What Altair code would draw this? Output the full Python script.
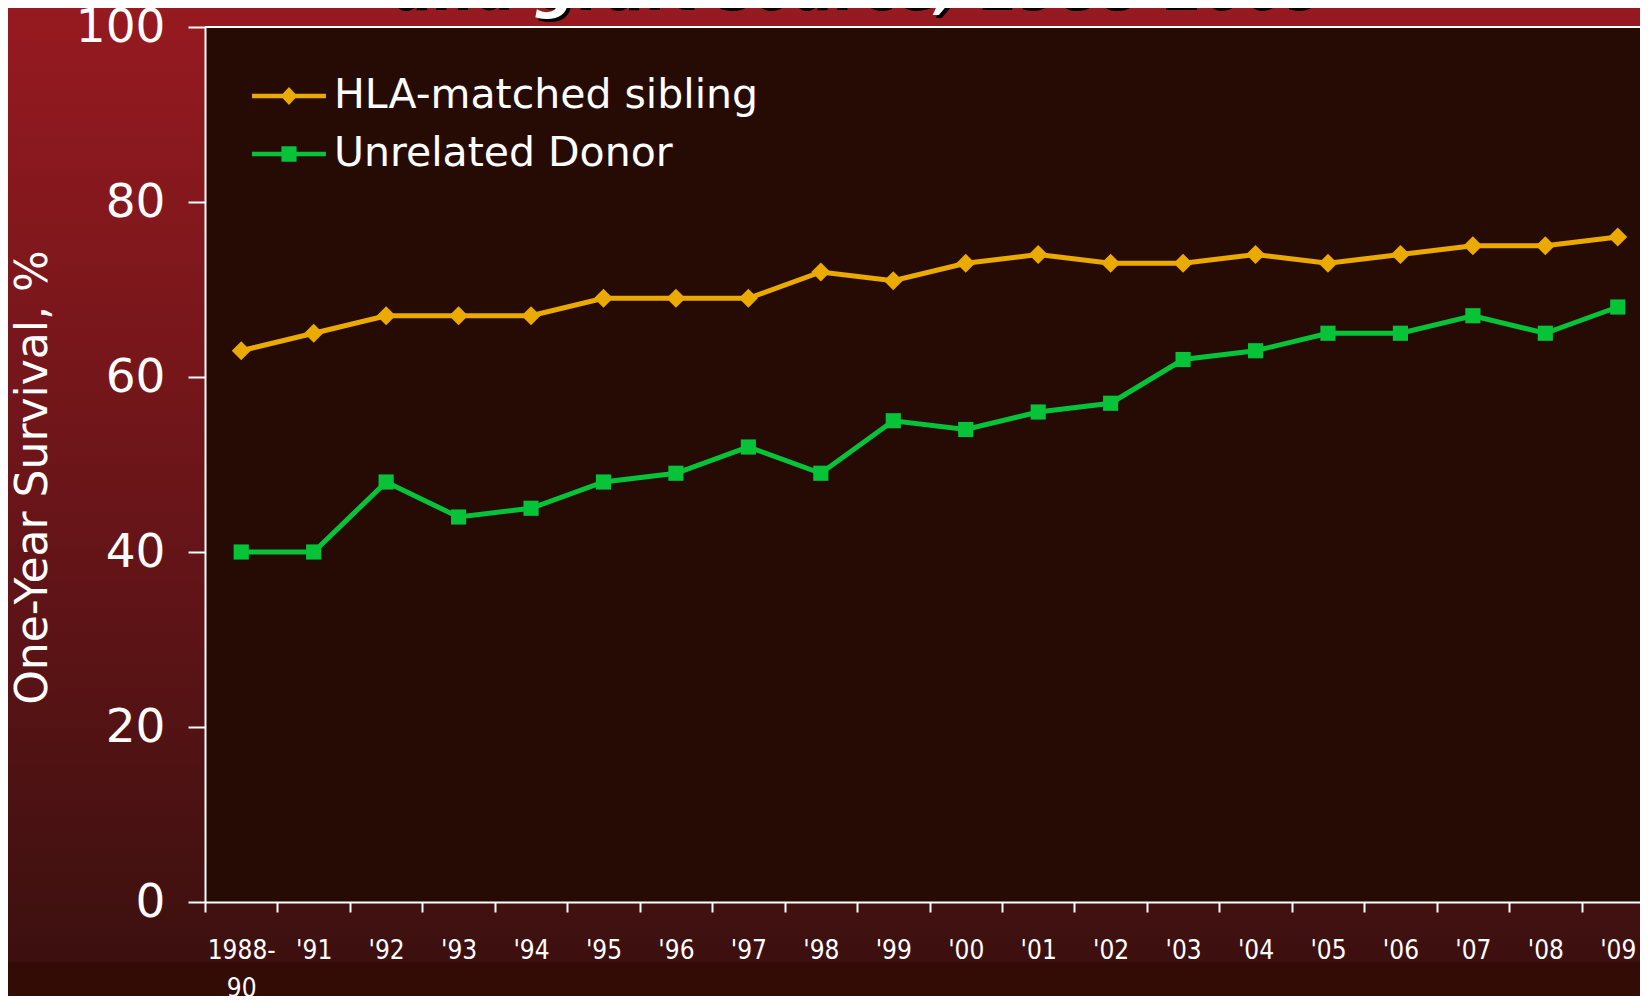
import altair as alt
import pandas as pd

# ---------------- data ----------------
years = ["1988-90", "'91", "'92", "'93", "'94", "'95", "'96", "'97", "'98", "'99",
         "'00", "'01", "'02", "'03", "'04", "'05", "'06", "'07", "'08", "'09"]
hla_sibling = [63, 65, 67, 67, 67, 69, 69, 69, 72, 71, 73, 74, 73, 73, 74, 73, 74, 75, 75, 76]
unrelated_donor = [40, 40, 48, 44, 45, 48, 49, 52, 49, 55, 54, 56, 57, 62, 63, 65, 65, 67, 65, 68]
series_names = ["HLA-matched sibling", "Unrelated Donor"]
series_colors = ["#EAAA00", "#06C337"]
y_ticks = [0, 20, 40, 60, 80, 100]
y_title = "One-Year Survival, %"
slide_title = "and graft source, 1988-2009"

# legend symbols: a line with the marker in the middle (SVG paths, 1 unit = 21 px)
legend_paths = [
    "M-1.76,-0.11H1.76V0.11H-1.76Z M0,-0.43L0.4,0L0,0.43L-0.4,0Z",
    "M-1.76,-0.11H1.76V0.11H-1.76Z M-0.36,-0.37H0.36V0.37H-0.36Z",
]

hla_df = pd.DataFrame({"year": years, "value": hla_sibling, "series": series_names[0]})
unr_df = pd.DataFrame({"year": years, "value": unrelated_donor, "series": series_names[1]})
long_df = pd.concat([hla_df, unr_df], ignore_index=True)

# ---------------- layout ----------------
W, H = 1435, 875
PAD_L, PAD_T, PAD_B = 197, 19, 94
X_RANGE = 1449

x_enc = alt.X(
    "year:N",
    sort=years,
    scale=alt.Scale(domain=years, range=[0, X_RANGE], paddingInner=0, paddingOuter=0),
    axis=alt.Axis(
        title=None, labelAngle=0, tickBand="extent", tickSize=10, tickWidth=2,
        tickColor="white", domainColor="white", domainWidth=2, grid=False, zindex=2,
        labelColor="white", labelFont="DejaVu Sans Condensed, Liberation Sans Narrow, sans-serif",
        labelFontSize=26, labelPadding=25, labelLineHeight=38, labelOverlap=False,
        labelBaseline="top",
        labelExpr="datum.value == '1988-90' ? ['1988-', '90'] : datum.label",
    ),
)
y_enc = alt.Y(
    "value:Q",
    scale=alt.Scale(domain=[0, 100], nice=False, zero=True),
    axis=alt.Axis(
        values=y_ticks, title=y_title, grid=False, zindex=2,
        titleFont="DejaVu Sans", titleFontSize=44, titleFontWeight="normal", titleColor="white",
        titleX=-172, titleY=450, titleBaseline="middle", titleAngle=270,
        labelFont="DejaVu Sans", labelFontSize=47, labelColor="white", labelPadding=23,
        tickSize=17, tickWidth=2, tickColor="white", domainColor="white", domainWidth=2,
    ),
)

bg_data = alt.Data(values=[{"k": 1}])

gradient = alt.Chart(bg_data).mark_rect(
    color=alt.LinearGradient(
        gradient="linear",
        stops=[
            alt.GradientStop(color="#961a20", offset=0),
            alt.GradientStop(color="#6b1519", offset=0.5),
            alt.GradientStop(color="#3c100f", offset=1),
        ],
        x1=0, x2=0, y1=0, y2=1,
    )
).encode(x=alt.value(-PAD_L), x2=alt.value(X_RANGE + 20), y=alt.value(-PAD_T), y2=alt.value(935))

bottom_strip = alt.Chart(bg_data).mark_rect(color="#320c05").encode(
    x=alt.value(-PAD_L), x2=alt.value(X_RANGE + 20), y=alt.value(935), y2=alt.value(H + PAD_B + 10)
)

plot_bg = alt.Chart(bg_data).mark_rect(color="#250b03").encode(
    x=alt.value(0), x2=alt.value(X_RANGE + 20), y=alt.value(0), y2=alt.value(H)
)

top_border = alt.Chart(bg_data).mark_rule(color="white", strokeWidth=2).encode(
    x=alt.value(0), x2=alt.value(X_RANGE + 20), y=alt.value(0)
)

title_shadow = alt.Chart(bg_data).mark_text(
    text=slide_title, font="DejaVu Sans", fontSize=58, fontWeight="bold", fontStyle="italic",
    color="black", align="center", baseline="alphabetic"
).encode(x=alt.value(656), y=alt.value(-17))

title_text = alt.Chart(bg_data).mark_text(
    text=slide_title, font="DejaVu Sans", fontSize=58, fontWeight="bold", fontStyle="italic",
    color="white", align="center", baseline="alphabetic"
).encode(x=alt.value(653), y=alt.value(-20))

line_hla = alt.Chart(hla_df).mark_line(strokeWidth=5, color=series_colors[0]).encode(x=x_enc, y=y_enc)
line_unr = alt.Chart(unr_df).mark_line(strokeWidth=5, color=series_colors[1]).encode(x=x_enc, y=y_enc)

diamonds = alt.Chart(hla_df).mark_point(
    shape="diamond", filled=True, size=360, color=series_colors[0], opacity=1
).encode(x=x_enc, y=y_enc)

squares = alt.Chart(unr_df).mark_point(
    shape="square", filled=True, size=230, color=series_colors[1], opacity=1
).encode(x=x_enc, y=y_enc)

legend_def = alt.Legend(
    title=None, orient="none", legendX=63, legendY=48, padding=0, zindex=3,
    symbolSize=1764, symbolStrokeWidth=0, symbolOpacity=1,
    labelFont="DejaVu Sans", labelFontSize=41, labelColor="white", labelOffset=24,
    labelLimit=1000, rowPadding=17,
)

# marks filtered away: this layer only carries the legend
legend_layer = alt.Chart(long_df).transform_filter("false").mark_point(filled=True, opacity=1).encode(
    x=x_enc, y=y_enc,
    color=alt.Color("series:N", scale=alt.Scale(domain=series_names, range=series_colors), legend=legend_def),
    shape=alt.Shape("series:N", scale=alt.Scale(domain=series_names, range=legend_paths), legend=legend_def),
)

chart = alt.layer(
    gradient, bottom_strip, plot_bg, top_border, title_shadow, title_text,
    line_hla, line_unr, diamonds, squares, legend_layer,
).properties(
    width=W, height=H,
    autosize=alt.AutoSizeParams(type="none"),
    padding={"left": PAD_L, "top": PAD_T, "right": 0, "bottom": PAD_B},
    background="#961a20",
).configure_view(strokeWidth=0)

chart.save("out.html", embed_options={"renderer": "svg", "actions": False})
